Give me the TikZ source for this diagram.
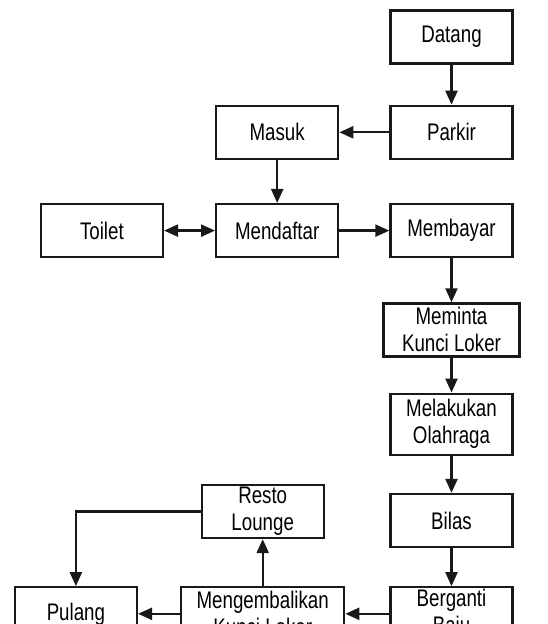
\documentclass[tikz,border=0pt]{standalone}
\usepackage{fontspec}
\setmainfont{Liberation Sans}[FakeStretch=0.78]
\usepackage{tikz}
\usetikzlibrary{arrows.meta,positioning}
\usepackage{xcolor}
\definecolor{lineColor}{RGB}{25,25,25}
\newcommand{\boxfont}{\fontsize{24}{27}\selectfont}

\begin{document}
\begin{tikzpicture}[
        x=1pt, y=-1pt,
        box/.style={draw=lineColor, line width=2.3pt, fill=white, minimum width=122pt, minimum height=53pt, inner sep=1pt, align=center, font=\boxfont},
        arr/.style={-{Triangle[length=14pt,width=12pt]}, line width=2.3pt, lineColor},
        darr/.style={{Triangle[length=14pt,width=12pt]}-{Triangle[length=14pt,width=12pt]}, line width=2.3pt, lineColor}
      ]
      \clip (0,0) rectangle (547,624);
      \fill[white] (0,0) rectangle (547,624);

      \node[box] (datang) at (451.5,37) {Datang};
      \node[box, below=40pt of datang] (parkir) {Parkir};
      \node[box, left=50pt of parkir] (masuk) {Masuk};
      \node[box, below=43pt of masuk] (mendaftar) {Mendaftar};
      \node[box, left=51pt of mendaftar] (toilet) {Toilet};
      \node[box, right=50pt of mendaftar] (membayar) {Membayar};
      \node[box, minimum width=136pt, below=44pt of membayar] (meminta) {Meminta\\Kunci Loker};
      \node[box, minimum height=61pt, below=35pt of meminta] (olahraga) {Melakukan\\Olahraga};
      \node[box, below=37pt of olahraga] (bilas) {Bilas};
      \node[box, below=38pt of bilas] (berganti) {Berganti\\Baju};
      \node[box, minimum width=163pt, left=44pt of berganti] (kembali) {Mengembalikan\\Kunci Loker};
      \node[box, left=42pt of kembali] (pulang) {Pulang};
      \node[box, above=47pt of kembali] (resto) {Resto\\Lounge};

      \draw[arr] (datang) -- (parkir);
      \draw[arr] (parkir) -- (masuk);
      \draw[arr] (masuk) -- (mendaftar);
      \draw[darr] (toilet) -- (mendaftar);
      \draw[arr] (mendaftar) -- (membayar);
      \draw[arr] (membayar) -- (meminta);
      \draw[arr] (meminta) -- (olahraga);
      \draw[arr] (olahraga) -- (bilas);
      \draw[arr] (bilas) -- (berganti);
      \draw[arr] (berganti) -- (kembali);
      \draw[arr] (kembali) -- (pulang);
      \draw[arr] (kembali) -- (resto);
      \draw[arr] (resto.west) -| (pulang.north);
    \end{tikzpicture}
\end{document}
